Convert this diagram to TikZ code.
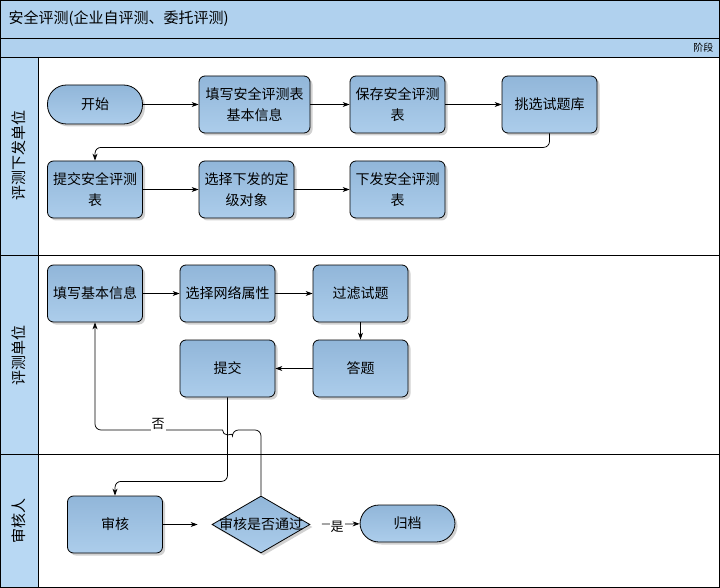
\documentclass[tikz,border=0pt]{standalone}
\usepackage{fontspec}
\newfontfamily\cjk{Noto Sans CJK SC}
\usetikzlibrary{arrows.meta,positioning,shapes.geometric,shadows}

\begin{document}
\begin{tikzpicture}[
  x=1pt,y=-1pt,
  >={Stealth[length=7pt,width=5pt]},
  font=\cjk\fontsize{14}{21}\selectfont,
  box/.style={draw=black,line width=0.8pt,top color=nodetop,bottom color=nodebot,
    rounded corners=6pt,minimum width=95pt,minimum height=57pt,align=center,
    inner sep=1pt,
    drop shadow={shadow xshift=2.5pt,shadow yshift=-2.5pt,fill=black!40,opacity=.45}},
  term/.style={box,rounded corners=19pt,minimum height=39pt},
  decision/.style={box,diamond,rounded corners=0pt,minimum width=98pt,
    minimum height=57pt,inner sep=0pt},
  flow/.style={->,line width=0.75pt,black},
  lab/.style={font=\cjk\fontsize{13}{15}\selectfont,fill=white,inner sep=1pt},
  lane/.style={font=\cjk\fontsize{15}{17}\selectfont,rotate=90}]

  \definecolor{nodetop}{RGB}{145,182,217}
  \definecolor{nodebot}{RGB}{172,205,235}
  \definecolor{barblue}{RGB}{176,209,238}
  \definecolor{laneblue}{RGB}{184,216,243}

  \useasboundingbox (0,0) rectangle (720,588);

  % ---- frame and lanes ----
  \fill[barblue] (0,0) rectangle (720,57);
  \fill[laneblue] (0,57) rectangle (38,588);
  \draw[black,line width=0.8pt] (0.5,0.5) rectangle (719.5,587.5);
  \draw[black,line width=0.8pt] (0,38) -- (720,38);
  \draw[black,line width=0.8pt] (0,57) -- (720,57);
  \draw[black,line width=0.8pt] (38,57) -- (38,588);
  \draw[black,line width=0.8pt] (0,255) -- (720,255);
  \draw[black,line width=0.8pt] (0,454) -- (720,454);

  \node[font=\cjk\fontsize{15}{17}\selectfont,anchor=west] (title) at (5,19)
    {安全评测(企业自评测、委托评测)};
  \node[font=\cjk\fontsize{10}{12}\selectfont,anchor=east] (phase) at (717,47.5) {阶段};
  \node[lane] (lanesend) at (19,156) {评测下发单位};
  \node[lane] (lanetest) at (19,355) {评测单位};
  \node[lane] (laneaudit) at (19,521) {审核人};

  % ---- lane 1: issuing unit ----
  \node[term] (start) at (95,104.5) {开始};
  \node[box,minimum width=111pt] (fillform) at (254.5,104.5) {填写安全评测表\\基本信息};
  \node[box] (saveform) at (397.5,104.5) {保存安全评测\\表};
  \node[box] (pickbank) at (549.5,104.5) {挑选试题库};
  \node[box] (submitform) at (95,189.5) {提交安全评测\\表};
  \node[box] (choosetarget) at (246.5,189.5) {选择下发的定\\级对象};
  \node[box] (sendform) at (397.5,189.5) {下发安全评测\\表};

  \draw[flow] (start) -- (fillform);
  \draw[flow] (fillform) -- (saveform);
  \draw[flow] (saveform) -- (pickbank);
  \draw[flow,rounded corners=6pt] (pickbank.south) -- ++(0,14) -| (submitform.north);
  \draw[flow] (submitform) -- (choosetarget);
  \draw[flow] (choosetarget) -- (sendform);

  % ---- lane 2: tested unit ----
  \node[box] (fillinfo) at (95,293.5) {填写基本信息};
  \node[box] (choosenet) at (227.5,293.5) {选择网络属性};
  \node[box] (filterq) at (360.5,293.5) {过滤试题};
  \node[box] (answer) at (360.5,368.5) {答题};
  \node[box] (submit) at (227.5,368.5) {提交};

  \draw[flow] (fillinfo) -- (choosenet);
  \draw[flow] (choosenet) -- (filterq);
  \draw[flow] (filterq) -- (answer);
  \draw[flow] (answer) -- (submit);

  % ---- lane 3: auditor ----
  \node[box] (audit) at (115,524.5) {审核};
  \node[decision] (pass) at (261,524.5) {\makebox[0pt]{审核是否通过}};
  \node[term,minimum height=37pt] (archive) at (407.5,523.5) {归档};

  \draw[flow,shorten >=14pt] (audit) -- (pass);
  \draw[flow,shorten <=12pt] (pass) -- (archive)
    node[lab,pos=0.55,yshift=-3pt] {是};

  % ---- cross-lane links ----
  \draw[flow,rounded corners=6pt] (submit.south) -- ++(0,84) -| (audit.north);
  \coordinate (hop) at (submit.south |- 0,430);
  \draw[flow] (pass.north) [rounded corners=6pt] |- ([xshift=5pt]hop)
    [sharp corners] arc[start angle=0,end angle=-180,radius=5pt]
    [rounded corners=6pt] -- (fillinfo.south |- hop) -- (fillinfo.south);
  \node[lab] (nolab) at (158,424) {否};
\end{tikzpicture}
\end{document}
